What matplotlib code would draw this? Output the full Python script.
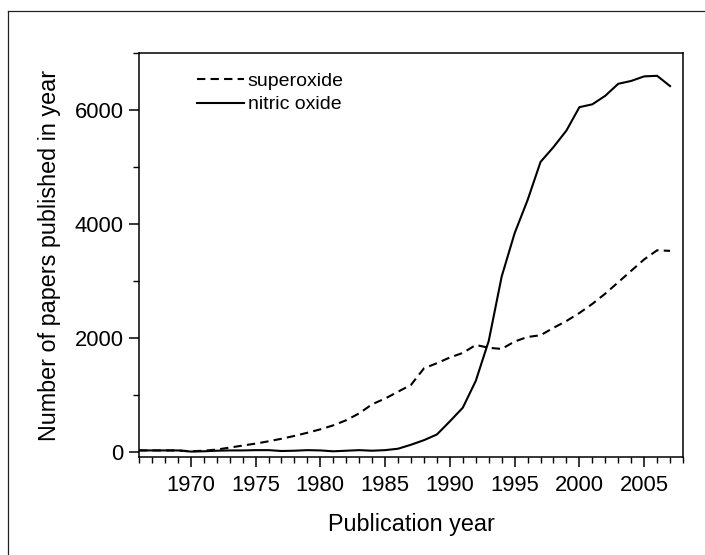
import matplotlib.pyplot as plt
from matplotlib.lines import Line2D
from matplotlib.ticker import MultipleLocator

plt.rcParams['font.family'] = ['Liberation Sans', 'DejaVu Sans']

years = list(range(1966, 2008))
nitric_oxide = [30, 30, 30, 30, 10, 15, 25, 30, 30, 35,
                35, 20, 25, 35, 30, 15, 25, 35, 25, 35,
                60, 130, 210, 310, 540, 780, 1250, 1950, 3080, 3840,
                4420, 5090, 5350, 5640, 6050, 6100, 6250, 6460, 6510, 6590,
                6600, 6420]
superoxide = [30, 30, 30, 30, 15, 25, 45, 80, 115, 150,
              190, 235, 285, 340, 400, 470, 560, 680, 840, 940,
              1060, 1180, 1470, 1560, 1660, 1740, 1880, 1830, 1810, 1940,
              2020, 2050, 2180, 2300, 2440, 2600, 2780, 2980, 3180, 3380,
              3540, 3530]

fig = plt.figure(figsize=(7.05, 5.55), dpi=100)
ax = fig.add_axes([0.1972, 0.1766, 0.7716, 0.7279])

ax.plot(years, superoxide, color='black', lw=1.5, dashes=(4, 2.5), label='superoxide')
ax.plot(years, nitric_oxide, color='black', lw=1.5, label='nitric oxide')

ax.set_xlim(1966, 2008)
ax.set_ylim(-85, 7000)
ax.xaxis.set_major_locator(MultipleLocator(5))
ax.xaxis.set_minor_locator(MultipleLocator(1))
ax.yaxis.set_major_locator(MultipleLocator(2000))
ax.yaxis.set_minor_locator(MultipleLocator(1000))
ax.tick_params(which='major', direction='out', length=7, width=1.1, labelsize=15.8, pad=4)
ax.tick_params(axis='x', which='major', pad=6)
ax.tick_params(which='minor', direction='out', length=4.5, width=1.0)
for s in ax.spines.values():
    s.set_linewidth(1.1)

ax.set_xlabel('Publication year', fontsize=16.8, labelpad=12)
ax.set_ylabel('Number of papers published in year', fontsize=16.8, labelpad=10)

ax.legend(loc='upper left', bbox_to_anchor=(0.107, 0.952), frameon=False,
          fontsize=14, handlelength=2.4, handletextpad=0.2,
          borderpad=0, borderaxespad=0, labelspacing=0.3)

# outer frame
fig.add_artist(Line2D([8/705, 1.0], [1 - 11/555, 1 - 11/555], color='#222222', lw=0.9))
fig.add_artist(Line2D([8/705, 8/705], [0.0, 1 - 11/555], color='#222222', lw=0.9))

fig.savefig('out.png', dpi=100)
